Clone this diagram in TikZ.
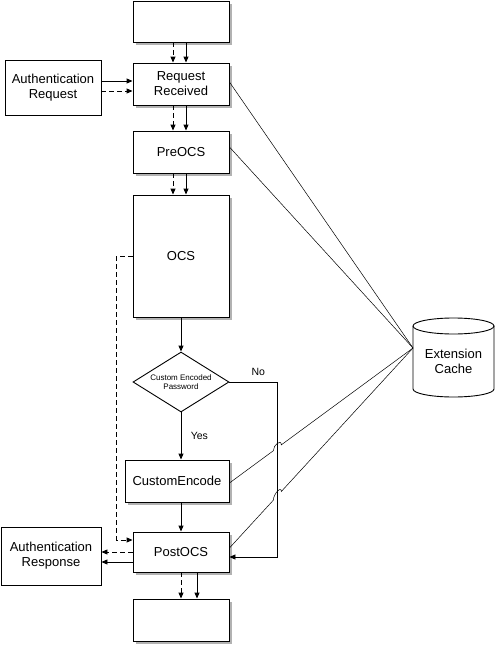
\documentclass[tikz,border=0pt]{standalone}
\usepackage{fontspec}
\setmainfont{Liberation Sans}
\usetikzlibrary{arrows.meta,shapes.geometric,shadows,calc}
\begin{document}
\begin{tikzpicture}[x=1pt,y=-1pt,
  every node/.style={font=\fontsize{13}{15}\selectfont, align=center},
  box/.style={draw, line width=0.9pt, fill=white, minimum width=96pt, minimum height=42pt, inner sep=0pt},
  shbox/.style={box, general shadow={fill=black!30, shadow xshift=3pt, shadow yshift=-3pt}},
  arr/.style={-{Triangle[length=6pt,width=5pt]}, line width=0.9pt},
  dsh/.style={arr, dash pattern=on 5pt off 3pt},
  thinline/.style={line width=0.5pt},
  lbl/.style={font=\fontsize{10.5}{12}\selectfont}]
\useasboundingbox (0,0) rectangle (495,645);

% nodes
\node[shbox, minimum height=41pt] (top) at (181,21.5) {};
\node[shbox] (rr) at (181,84) {Request\\Received};
\node[shbox] (pre) at (181,152) {PreOCS};
\node[shbox, minimum height=122pt] (ocs) at (181,256) {OCS};
\node[diamond, draw, line width=0.9pt, fill=white, minimum width=96pt, minimum height=60pt, inner sep=0pt, aspect=1.6, font=\fontsize{8}{9.5}\selectfont] (dia) at (181,382) {Custom Encoded\\Password};
\node[shbox, minimum width=104pt] (ce) at (177,481) {CustomEncode};
\node[shbox, minimum height=40pt] (post) at (181,552) {PostOCS};
\node[shbox] (bot) at (181,620) {};
\node[box, minimum height=55pt] (areq) at (53,87.5) {Authentication\\Request};
\node[box, minimum width=100pt, minimum height=58pt] (aresp) at (51,556) {Authentication\\Response};

% cylinder
\draw[line width=0.9pt] (453.5,326) ellipse [x radius=40.5, y radius=8];
\draw[line width=0.9pt] (413,326) -- (413,389) arc[start angle=180, end angle=0, x radius=40.5, y radius=8] -- (494,326);
\node (cachetxt) at (453.5,361) {Extension\\Cache};
\coordinate (cache) at (413,348);

% main flow
\draw[dsh] ([xshift=-8pt]top.south) -- ([xshift=-8pt]rr.north);
\draw[arr] ([xshift=5pt]top.south) -- ([xshift=5pt]rr.north);
\draw[dsh] ([xshift=-8pt]rr.south) -- ([xshift=-8pt]pre.north);
\draw[arr] ([xshift=5pt]rr.south) -- ([xshift=5pt]pre.north);
\draw[dsh] ([xshift=-8pt]pre.south) -- ([xshift=-8pt]ocs.north);
\draw[arr] ([xshift=5pt]pre.south) -- ([xshift=5pt]ocs.north);

\draw[arr] ([yshift=6.5pt]areq.east) coordinate (a1) -- (a1 -| rr.west);
\draw[dsh] ([yshift=-3.5pt]areq.east) coordinate (a2) -- (a2 -| rr.west);

\draw[arr] (ocs.south) -- (dia.north);
\draw[arr] (dia.south) -- (dia.south |- ce.north) node[midway, right=6pt, lbl] {Yes};
\draw[arr] (post.north |- ce.south) -- (post.north);
\draw[arr, line width=0.7pt] (dia.east) -- node[pos=0.6, above=3pt, lbl] {No} ++(48,0) |- ([yshift=-5pt]post.east);

\draw[dsh] (ocs.west) -- ++(-16,0) |- ([yshift=12pt]post.west);
\draw[dsh] (post.west) -- (post.west -| aresp.east);
\draw[arr] ([yshift=-10pt]post.west) coordinate (p2) -- (p2 -| aresp.east);
\draw[dsh] (post.south) -- (post.south |- bot.north);
\draw[arr] ([xshift=16pt]post.south) -- ([xshift=16pt]bot.north);

% cache links
\draw[thinline] ([yshift=2pt]rr.east) -- (cache);
\draw[thinline] ([yshift=5pt]pre.east) -- (cache);
\draw[thinline] ([yshift=-2pt]ce.east) coordinate (c1) -- ($(c1)!0.2391!(cache)$)
  .. controls +(0,-6) and +(0,-6) .. ($(c1)!0.2826!(cache)$) -- (cache);
\draw[thinline] ([yshift=4pt]post.east) coordinate (c2) -- ($(c2)!0.2391!(cache)$)
  .. controls +(0,-6) and +(0,-6) .. ($(c2)!0.2826!(cache)$) -- (cache);
\end{tikzpicture}
\end{document}
